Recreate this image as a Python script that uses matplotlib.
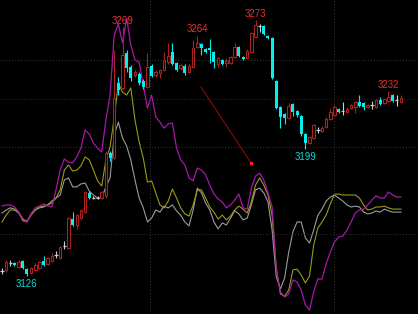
import numpy as np
import matplotlib
matplotlib.use("Agg")
import matplotlib.pyplot as plt

# daily candles (price)
opens = [3128.8, 3129.4, 3133.4, 3133.4, 3131.1, 3134.6, 3130.0, 3127.7, 3129.4, 3130.6,
         3134.6, 3132.9, 3134.6, 3138.0, 3136.3, 3143.2, 3142.0, 3158.7, 3155.3, 3159.3,
         3162.7, 3173.6, 3170.8, 3170.8, 3170.8, 3171.9, 3196.6, 3193.7, 3236.8, 3234.0,
         3254.1, 3246.0, 3241.4, 3242.0, 3238.0, 3234.5, 3246.6, 3241.4, 3242.6, 3244.3,
         3248.9, 3254.6, 3248.3, 3245.4, 3246.6, 3243.1, 3246.0, 3257.5, 3259.2, 3256.4,
         3256.9, 3254.6, 3247.7, 3250.0, 3248.3, 3248.3, 3251.8, 3257.5, 3251.8, 3251.2,
         3254.6, 3263.2, 3269.6, 3269.6, 3263.8, 3262.7, 3238.0, 3223.0, 3219.0, 3216.7,
         3224.8, 3220.7, 3217.9, 3207.5, 3202.4, 3205.2, 3209.8, 3209.3, 3211.6, 3216.1,
         3218.4, 3221.9, 3220.7, 3220.2, 3222.5, 3223.0, 3225.9, 3225.3, 3223.0, 3224.2,
         3223.0, 3227.1, 3225.3, 3226.5, 3230.0, 3227.1, 3225.9]
highs = [3130.6, 3135.2, 3135.2, 3134.0, 3135.2, 3135.2, 3130.6, 3131.1, 3133.4, 3134.6,
         3137.5, 3137.0, 3139.2, 3140.3, 3143.2, 3146.1, 3160.0, 3162.7, 3161.6, 3164.5,
         3175.0, 3174.5, 3172.0, 3171.9, 3175.0, 3198.0, 3197.5, 3255.8, 3240.3, 3269.0,
         3256.0, 3247.0, 3244.5, 3243.0, 3239.0, 3254.1, 3247.5, 3244.0, 3245.0, 3254.6,
         3259.8, 3259.8, 3249.0, 3248.0, 3247.5, 3247.5, 3261.5, 3264.0, 3260.0, 3257.0,
         3262.1, 3255.2, 3252.0, 3250.6, 3251.2, 3252.5, 3259.8, 3258.0, 3252.3, 3256.4,
         3266.1, 3273.0, 3270.7, 3270.1, 3264.3, 3263.2, 3238.5, 3223.6, 3219.6, 3225.3,
         3225.3, 3221.3, 3218.4, 3208.0, 3206.5, 3213.5, 3211.5, 3212.0, 3217.0, 3222.5,
         3224.0, 3222.5, 3225.9, 3223.0, 3225.0, 3226.5, 3230.0, 3226.0, 3225.0, 3226.5,
         3227.6, 3229.0, 3228.2, 3232.0, 3230.6, 3230.0, 3230.0]
lows = [3127.1, 3128.3, 3131.7, 3131.7, 3130.6, 3130.0, 3126.0, 3127.1, 3129.0, 3130.0,
        3131.7, 3132.3, 3134.0, 3136.3, 3135.5, 3141.5, 3141.5, 3154.5, 3153.0, 3158.7,
        3162.0, 3170.2, 3170.0, 3170.2, 3170.2, 3171.0, 3192.0, 3193.0, 3230.0, 3233.0,
        3243.0, 3238.0, 3240.0, 3235.5, 3233.5, 3234.0, 3240.0, 3240.5, 3239.7, 3243.5,
        3248.0, 3247.0, 3243.5, 3244.5, 3241.5, 3242.5, 3245.5, 3257.0, 3252.9, 3254.0,
        3248.3, 3245.4, 3246.0, 3247.0, 3246.0, 3247.7, 3251.2, 3251.8, 3250.0, 3250.6,
        3254.0, 3262.7, 3266.1, 3264.5, 3262.0, 3239.0, 3222.0, 3211.0, 3213.5, 3216.0,
        3218.0, 3217.5, 3206.5, 3199.0, 3201.5, 3204.5, 3208.0, 3208.5, 3211.0, 3215.5,
        3218.0, 3219.5, 3218.4, 3219.6, 3222.0, 3219.6, 3223.0, 3221.3, 3222.5, 3222.0,
        3222.5, 3224.2, 3225.0, 3226.0, 3226.0, 3223.6, 3225.3]
closes = [3128.8, 3134.0, 3133.4, 3132.3, 3134.0, 3130.6, 3127.0, 3130.6, 3132.3, 3134.0,
          3132.3, 3136.3, 3137.5, 3138.0, 3142.6, 3143.2, 3159.3, 3155.3, 3161.0, 3163.9,
          3174.2, 3170.8, 3170.8, 3170.8, 3174.2, 3196.6, 3193.7, 3228.2, 3232.8, 3252.9,
          3245.4, 3239.7, 3243.1, 3236.8, 3234.5, 3246.0, 3240.8, 3243.1, 3244.3, 3250.0,
          3252.3, 3247.7, 3244.3, 3247.2, 3242.6, 3246.6, 3256.9, 3259.8, 3256.9, 3254.6,
          3255.8, 3248.9, 3251.2, 3247.7, 3249.5, 3251.8, 3257.5, 3252.3, 3250.6, 3255.2,
          3265.5, 3270.1, 3269.6, 3265.0, 3262.7, 3239.7, 3222.5, 3217.3, 3216.7, 3223.6,
          3220.2, 3218.4, 3207.5, 3202.4, 3205.8, 3212.7, 3209.8, 3211.0, 3216.1, 3220.2,
          3223.0, 3220.2, 3220.7, 3221.9, 3224.2, 3225.9, 3223.6, 3223.0, 3224.2, 3224.2,
          3227.1, 3224.8, 3227.6, 3228.8, 3226.5, 3227.1, 3228.2]

# overlaid oscillator lines
line_purple = [31.3, 31.7, 31.7, 31.0, 29.3, 26.3, 26.0, 28.7, 30.7, 31.3,
               32.0, 31.3, 31.0, 36.7, 43.3, 47.0, 46.0, 45.7, 47.7, 50.7,
               56.7, 55.3, 52.3, 50.7, 49.3, 60.0, 68.3, 88.3, 92.0, 85.7,
               94.0, 85.0, 80.0, 79.3, 71.7, 64.0, 68.3, 61.0, 59.3, 57.3,
               58.7, 59.0, 50.7, 46.7, 45.0, 40.7, 39.7, 44.0, 43.3, 41.7,
               38.3, 35.3, 33.7, 32.7, 30.7, 31.7, 33.3, 35.3, 30.7, 30.3,
               37.3, 41.3, 42.3, 40.0, 35.7, 31.0, 10.0, 2.7, 1.0, 2.0,
               6.7, 6.0, 3.3, -1.7, -3.3, 2.7, 7.0, 7.0, 12.0, 16.0,
               19.3, 21.0, 21.3, 23.3, 26.0, 29.0, 30.0, 30.3, 31.7, 33.3,
               34.7, 34.0, 34.0, 36.0, 35.0, 34.3, 34.3]
line_olive = [26.0, 28.3, 30.0, 30.0, 29.0, 26.7, 26.3, 28.3, 30.0, 31.0,
              31.3, 31.7, 32.3, 34.0, 36.7, 43.3, 45.0, 43.0, 43.3, 44.7,
              47.7, 46.7, 43.3, 39.7, 38.0, 46.7, 51.0, 60.7, 72.3, 69.3,
              68.3, 70.7, 60.0, 52.7, 47.3, 39.3, 39.7, 35.7, 31.7, 30.7,
              33.0, 37.0, 34.0, 30.7, 28.7, 28.0, 31.7, 36.7, 36.7, 34.0,
              31.0, 29.3, 27.0, 28.3, 26.7, 28.0, 30.0, 31.3, 30.3, 29.0,
              32.7, 38.3, 40.7, 38.3, 35.0, 28.3, 10.7, 2.0, 1.3, 3.3,
              10.0, 10.3, 8.3, 5.7, 8.0, 18.3, 24.0, 26.0, 28.3, 32.0,
              35.3, 35.3, 35.0, 35.0, 35.0, 35.0, 34.0, 31.7, 30.0, 30.3,
              31.0, 31.0, 31.3, 30.7, 30.3, 30.3, 30.3]
line_grey = [29.0, 30.0, 30.7, 30.3, 29.3, 27.0, 26.0, 28.7, 30.0, 30.7,
             31.0, 31.7, 33.0, 34.0, 35.0, 40.0, 40.7, 37.7, 37.7, 38.7,
             39.0, 36.3, 35.0, 34.0, 34.0, 37.7, 40.7, 55.0, 59.3, 54.0,
             51.3, 46.7, 40.0, 34.0, 30.7, 26.0, 27.3, 30.0, 29.3, 31.3,
             30.7, 31.7, 29.7, 28.3, 26.0, 24.7, 30.0, 37.3, 35.7, 32.3,
             30.0, 26.0, 23.7, 25.7, 25.0, 27.3, 29.7, 28.7, 26.7, 27.3,
             31.7, 36.7, 37.3, 35.7, 32.7, 23.3, 7.7, 3.7, 7.3, 16.0,
             22.7, 26.0, 26.0, 20.7, 19.0, 23.3, 28.3, 30.3, 33.0, 34.3,
             35.0, 34.0, 33.0, 31.7, 31.0, 31.3, 31.0, 29.3, 28.7, 29.0,
             29.7, 29.3, 30.3, 29.7, 29.3, 29.3, 29.3]

high_marks = [29, 47, 61, 93]
low_marks = [6, 73]
day_breaks = [35.7, 79.9]
price_grid = [3150, 3200, 3250]
ref_price = 3227.6
trend_start = (47.9, 3234.5)
trend_end = (59.9, 3190.9)

RED = "#a82222"
CYAN = "#00f0f0"
DOJI = "#cfcfcf"

opens, highs, lows, closes = map(np.array, (opens, highs, lows, closes))
x = np.arange(len(opens))
up = closes > opens
down = closes < opens
flat = closes == opens

fig = plt.figure(figsize=(4.18, 3.14), dpi=100, facecolor="black")
ax2 = fig.add_axes([0, 0, 1, 1])
ax = fig.add_axes([0, 0, 1, 1], sharex=ax2)
ax2.set_facecolor("black")
ax.patch.set_visible(False)

# indicator lines underneath
ax2.plot(x, line_grey, color="#9c9c9c", lw=0.8)
ax2.plot(x, line_olive, color="#9a9a18", lw=0.8)
ax2.plot(x, line_purple, color="#a818a8", lw=0.9)
ax2.set_ylim(100 - 314 / 3, 100)

# grid
for p in price_grid:
    ax.axhline(p, color="#3a3a3a", lw=0.7, ls=(0, (1, 2)), zorder=0)
ax.axhline(ref_price, color="#7a0000", lw=0.8, ls=(0, (1, 2)), zorder=0)
for d in day_breaks:
    ax.axvline(d, color="#3a3a3a", lw=0.7, ls=(0, (1, 2)), zorder=0)

bw = 0.62
ax.vlines(x[up], lows[up], highs[up], color=RED, lw=0.8, zorder=2)
ax.bar(x[up], closes[up] - opens[up], bottom=opens[up], width=bw,
       facecolor="black", edgecolor=RED, linewidth=0.8, zorder=3)
ax.vlines(x[down], lows[down], highs[down], color=CYAN, lw=0.8, zorder=2)
ax.bar(x[down], opens[down] - closes[down], bottom=closes[down], width=bw + 0.1,
       color=CYAN, linewidth=0, zorder=3)
ax.vlines(x[flat], lows[flat], highs[flat], color=DOJI, lw=0.8, zorder=2)
ax.hlines(closes[flat], x[flat] - 0.4, x[flat] + 0.4, color=DOJI, lw=0.9, zorder=3)

# drawn trend line
ax.plot([trend_start[0], trend_end[0]], [trend_start[1], trend_end[1]],
        color="#8a0c0c", lw=0.8, zorder=2)
ax.plot([trend_end[0]], [trend_end[1]], "s", color="#ff2020", ms=2, zorder=4)

lab_font = ["Liberation Sans Narrow", "Liberation Sans", "DejaVu Sans"]
for i in high_marks:
    ax.annotate(f"{highs[i]:.0f}", (x[i], highs[i]), xytext=(0, 1),
                textcoords="offset points", ha="center", va="bottom",
                color="#e83030", fontsize=7, family=lab_font, zorder=5)
for i in low_marks:
    ax.annotate(f"{lows[i]:.0f}", (x[i], lows[i]), xytext=(0, -2),
                textcoords="offset points", ha="center", va="top",
                color="#10d8d8", fontsize=7, family=lab_font, zorder=5)

ax.set_xlim(-0.48, 100.1)
ax.set_ylim(3104.1, 3284.5)
for a in (ax, ax2):
    a.set_xticks([])
    a.set_yticks([])
    for s in a.spines.values():
        s.set_visible(False)

fig.savefig("out.png", dpi=100, facecolor="black")
